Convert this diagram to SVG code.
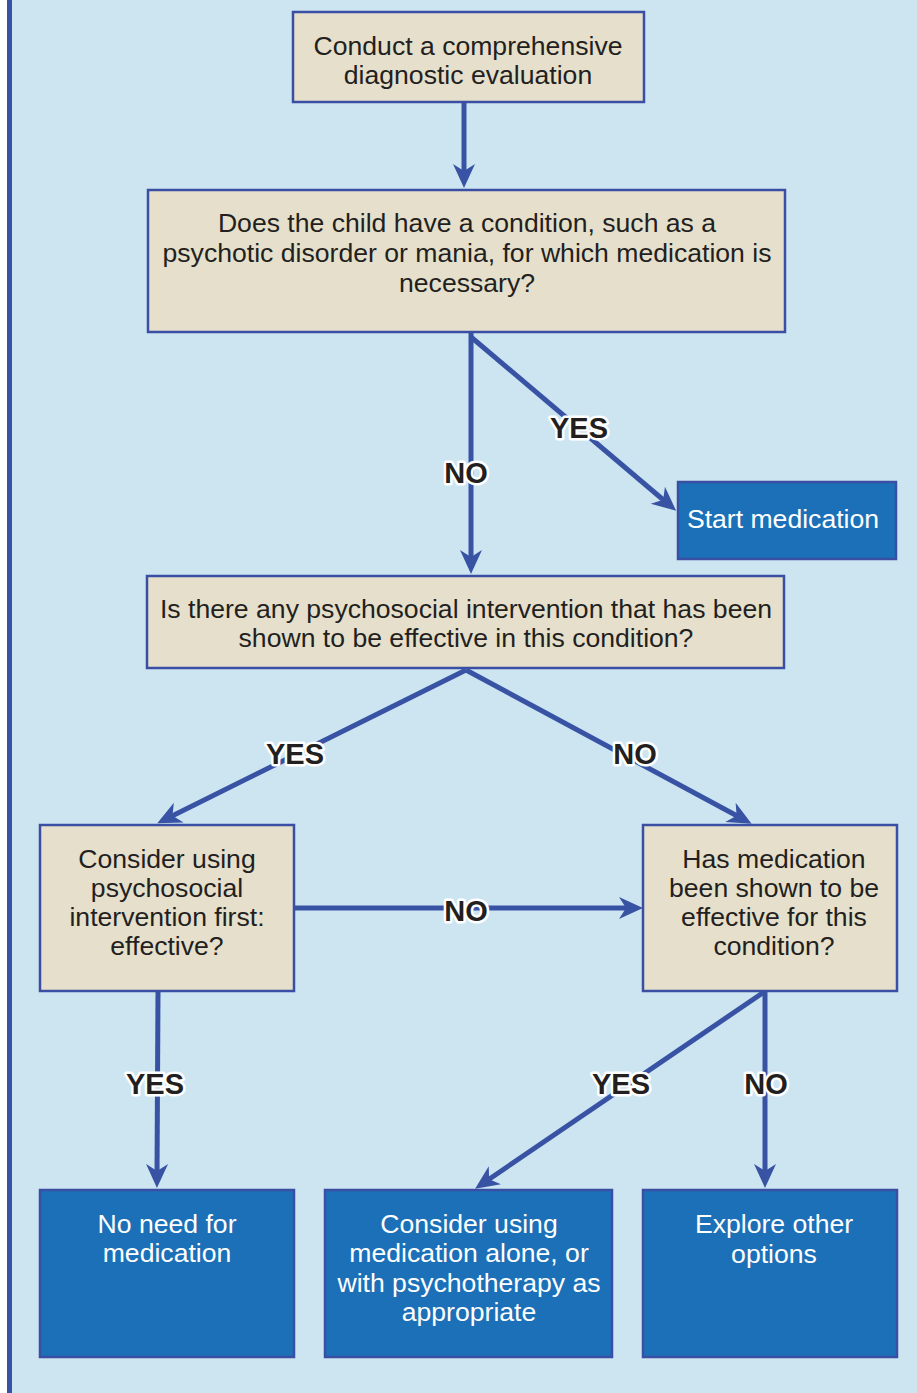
<svg xmlns="http://www.w3.org/2000/svg" width="917" height="1393" viewBox="0 0 917 1393">
<defs>
<style>
.bg{fill:#cde5f1}
.q{fill:#e5dfcb;stroke:#3a4fa3;stroke-width:2.5}
.a{fill:#1b70b8;stroke:#3a4fa3;stroke-width:2.5}
.t{font-family:"Liberation Sans",Arial,sans-serif;font-size:26.6px;text-anchor:middle;fill:#231f20}
.w{fill:#ffffff}
.c{stroke:#3953a4;stroke-width:5;fill:none;marker-end:url(#ah)}
.l{font-family:"Liberation Sans",Arial,sans-serif;font-size:29px;font-weight:bold;text-anchor:middle;fill:#231f20;stroke:#ffffff;stroke-width:5;paint-order:stroke;stroke-linejoin:round}
</style>
<marker id="ah" markerUnits="userSpaceOnUse" markerWidth="26" markerHeight="24" refX="12" refY="12" orient="auto" viewBox="0 0 26 24">
<path d="M24,12 L0,1 L7,12 L0,23 Z" fill="#3953a4"/>
</marker>
</defs>
<rect x="0" y="0" width="917" height="1393" fill="#ffffff"/>
<rect class="bg" x="12" y="0" width="905" height="1393"/>
<rect x="7" y="0" width="5" height="1393" fill="#3953a4"/>

<g id="connectors">
<line class="c" x1="464" y1="103" x2="464" y2="176"/>
<line class="c" x1="471" y1="333" x2="471" y2="562"/>
<line class="c" x1="471" y1="337" x2="667" y2="503"/>
<line class="c" x1="466" y1="670" x2="168" y2="818"/>
<line class="c" x1="466" y1="670" x2="741" y2="818"/>
<line class="c" x1="295" y1="908" x2="631" y2="908"/>
<line class="c" x1="158" y1="992" x2="157" y2="1176"/>
<line class="c" x1="764" y1="992" x2="485" y2="1182"/>
<line class="c" x1="765" y1="992" x2="765" y2="1176"/>
</g>

<g id="labels">
<text class="l" x="466" y="483">NO</text>
<text class="l" x="579" y="438">YES</text>
<text class="l" x="295" y="764">YES</text>
<text class="l" x="635" y="764">NO</text>
<text class="l" x="466" y="921">NO</text>
<text class="l" x="155" y="1094">YES</text>
<text class="l" x="621" y="1094">YES</text>
<text class="l" x="766" y="1094">NO</text>
</g>

<g id="n1">
<rect class="q" x="293" y="12" width="351" height="90"/>
<text class="t" x="468" y="55">Conduct a comprehensive</text>
<text class="t" x="468" y="84">diagnostic evaluation</text>
</g>
<g id="n2">
<rect class="q" x="148" y="190" width="637" height="142"/>
<text class="t" x="467" y="232">Does the child have a condition, such as a</text>
<text class="t" x="467" y="262">psychotic disorder or mania, for which medication is</text>
<text class="t" x="467" y="292">necessary?</text>
</g>
<g id="n3">
<rect class="a" x="678" y="482" width="218" height="77"/>
<text class="t w" x="783" y="528">Start medication</text>
</g>
<g id="n4">
<rect class="q" x="147" y="576" width="637" height="92"/>
<text class="t" x="466" y="618">Is there any psychosocial intervention that has been</text>
<text class="t" x="466" y="647">shown to be effective in this condition?</text>
</g>
<g id="n5">
<rect class="q" x="40" y="825" width="254" height="166"/>
<text class="t" x="167" y="868">Consider using</text>
<text class="t" x="167" y="897">psychosocial</text>
<text class="t" x="167" y="926">intervention first:</text>
<text class="t" x="167" y="955">effective?</text>
</g>
<g id="n6">
<rect class="q" x="643" y="825" width="254" height="166"/>
<text class="t" x="774" y="868">Has medication</text>
<text class="t" x="774" y="897">been shown to be</text>
<text class="t" x="774" y="926">effective for this</text>
<text class="t" x="774" y="955">condition?</text>
</g>
<g id="n7">
<rect class="a" x="40" y="1190" width="254" height="167"/>
<text class="t w" x="167" y="1233">No need for</text>
<text class="t w" x="167" y="1262">medication</text>
</g>
<g id="n8">
<rect class="a" x="325" y="1190" width="287" height="167"/>
<text class="t w" x="469" y="1233">Consider using</text>
<text class="t w" x="469" y="1262">medication alone, or</text>
<text class="t w" x="469" y="1292">with psychotherapy as</text>
<text class="t w" x="469" y="1321">appropriate</text>
</g>
<g id="n9">
<rect class="a" x="643" y="1190" width="254" height="167"/>
<text class="t w" x="774" y="1233">Explore other</text>
<text class="t w" x="774" y="1263">options</text>
</g>
</svg>
